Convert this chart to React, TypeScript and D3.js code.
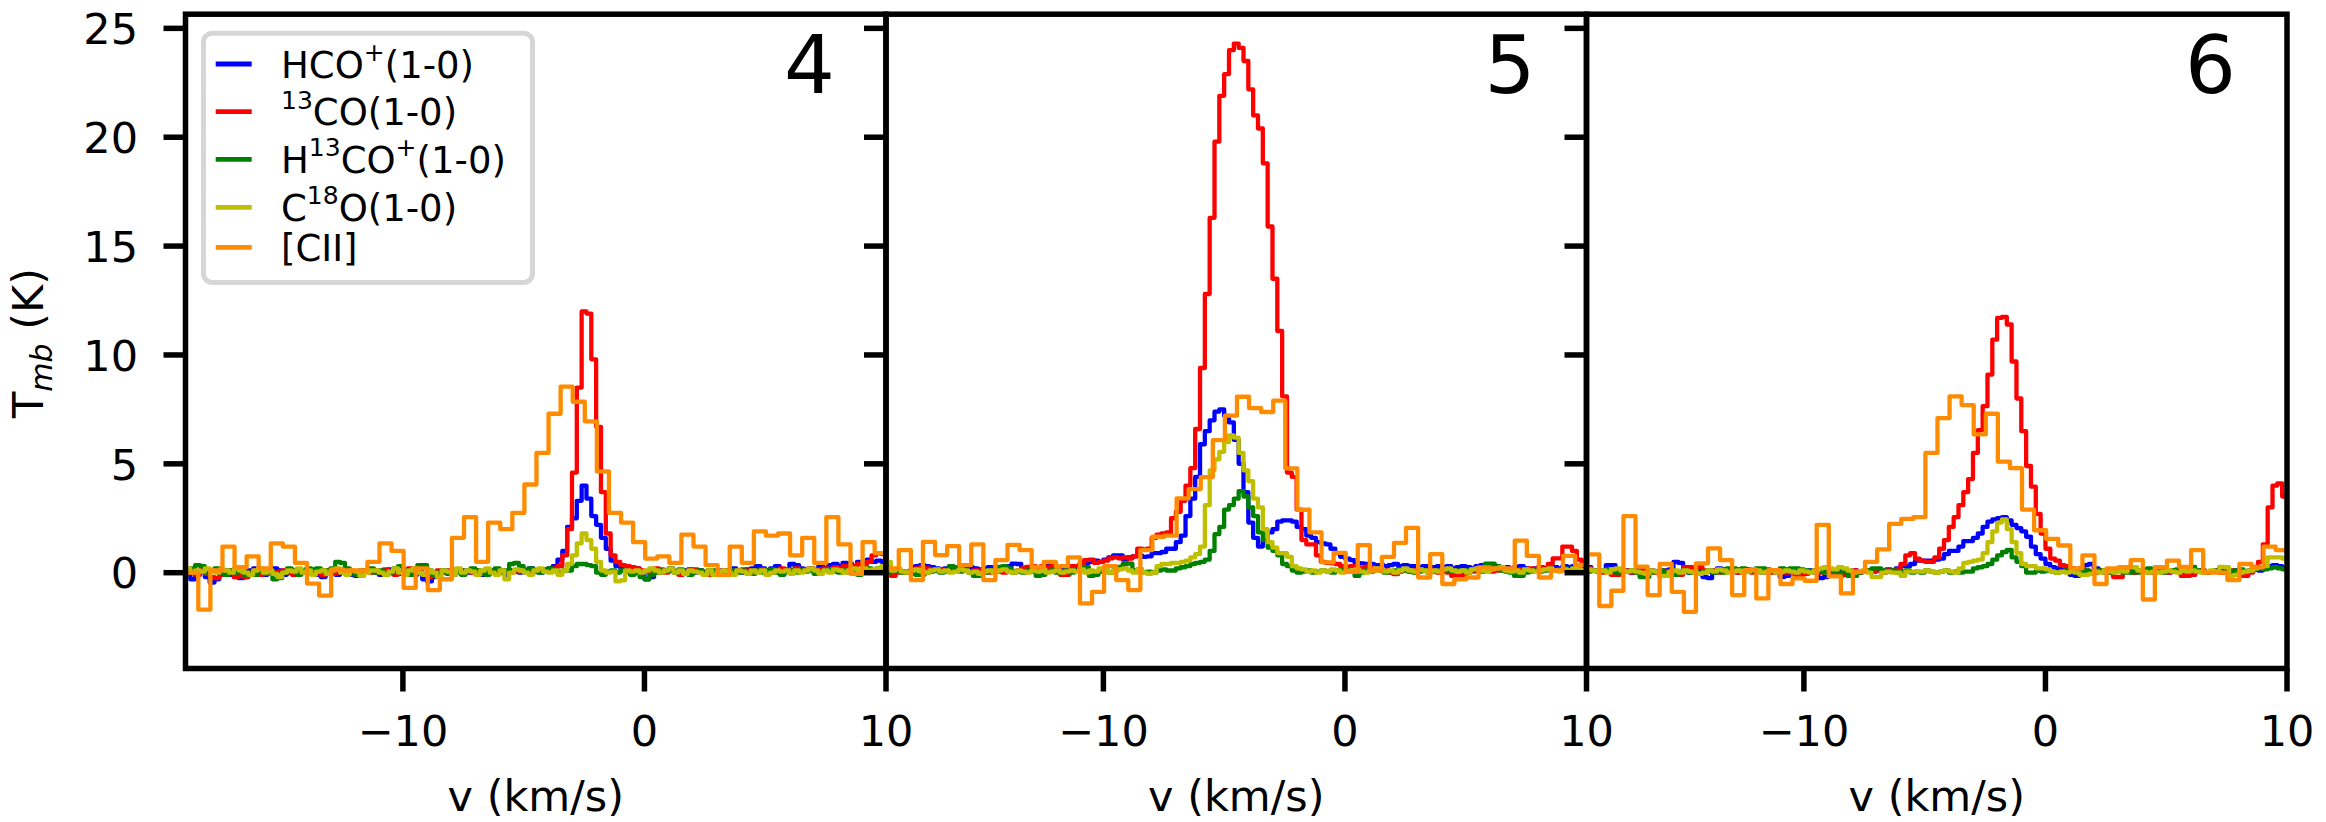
import React from 'react';
import * as d3 from 'd3';

// velocity axis (km/s) and main-beam temperature axis (K), shared by the three regions
const VEL_DOMAIN: [number, number] = [-19, 10];
const TMB_DOMAIN: [number, number] = [-4.4, 25.65];
const X_TICKS = [-10, 0, 10];
const Y_TICKS = [0, 5, 10, 15, 20, 25];
const REGIONS = ['4', '5', '6'];

// molecular lines: channel centres at MOL_V0 + i*MOL_DV ; [CII]: CII_V0 + i*CII_DV
const MOL_V0 = -19.1;
const MOL_DV = 0.2;
const CII_V0 = -19.22;
const CII_DV = 0.5;

const LEGEND = ['HCO+(1-0)', '13CO(1-0)', 'H13CO+(1-0)', 'C18O(1-0)', '[CII]'];
const COLORS = ['#0000ff', '#ff0000', '#008000', '#bfbf00', '#ff8c00'];

// ---------- region 4 ----------
const hco4 = [
  0.1, 0.0, -0.3, -0.1, 0.1, -0.2, -0.45, -0.3, 0.0, 0.1,
  -0.1, -0.2, -0.25, -0.2, 0.1, 0.2, 0.0, -0.1, 0.1, 0.2,
  0.1, -0.1, 0.0, 0.1, -0.05, 0.1, 0.15, 0.0, -0.1, -0.2,
  0.0, 0.1, -0.1, 0.0, 0.1, -0.1, -0.15, 0.0, 0.05, 0.1,
  0.0, -0.1, 0.1, 0.15, 0.0, -0.05, 0.1, 0.0, -0.1, 0.05,
  -0.3, -0.4, -0.2, 0.0, 0.1, 0.0, -0.1, 0.05, 0.1, 0.0,
  0.1, -0.05, -0.1, 0.0, 0.1, 0.05, 0.0, -0.1, 0.1, 0.05,
  0.0, 0.1, 0.2, 0.05, 0.0, 0.15, 0.2, 0.3, 0.6, 1.0,
  2.1, 2.5, 3.3, 4.0, 3.4, 2.6, 2.2, 1.6, 1.1, 0.55,
  0.3, 0.2, 0.25, 0.1, 0.2, 0.0, -0.3, -0.2, 0.1, 0.0,
  0.1, 0.2, 0.05, 0.0, 0.1, 0.15, 0.0, 0.1, 0.05, -0.05,
  0.0, 0.1, 0.05, 0.1, 0.2, 0.1, 0.0, 0.15, 0.2, 0.3,
  0.2, 0.1, 0.2, 0.3, 0.15, 0.1, 0.4, 0.35, 0.2, 0.1,
  0.2, 0.1, 0.3, 0.2, 0.35, 0.4, 0.3, 0.45, 0.4, 0.3,
  0.5, 0.4, 0.6, 0.5, 0.55, 0.5, 0.5,
];
const co13_4 = [
  0.0, 0.1, 0.0, -0.1, 0.1, -0.05, -0.2, -0.25, -0.1, 0.0,
  0.1, -0.2, -0.15, -0.2, 0.0, 0.1, -0.1, -0.05, 0.1, 0.0,
  0.05, 0.1, 0.0, -0.1, 0.1, 0.0, 0.05, 0.15, 0.0, -0.1,
  0.1, -0.05, 0.0, 0.15, 0.1, 0.0, -0.1, 0.05, 0.1, 0.0,
  0.1, 0.0, 0.15, 0.05, -0.1, 0.0, 0.1, 0.2, 0.05, 0.0,
  -0.1, -0.2, 0.0, 0.1, 0.0, 0.1, -0.05, 0.1, 0.0, 0.05,
  0.0, 0.1, -0.05, 0.05, 0.1, 0.0, 0.1, 0.05, 0.0, 0.1,
  0.05, 0.1, 0.0, 0.1, 0.05, 0.1, 0.1, 0.2, 0.3, 0.8,
  2.0, 4.6, 8.5, 12.0, 11.9, 9.8, 6.7, 3.7, 1.8, 0.8,
  0.5, 0.35, 0.3, 0.25, 0.2, 0.1, 0.05, 0.1, 0.2, 0.15,
  0.0, 0.1, 0.05, -0.1, 0.0, 0.1, 0.15, 0.05, 0.0, -0.1,
  -0.1, 0.0, 0.1, 0.05, 0.0, 0.1, 0.15, 0.1, 0.05, 0.1,
  0.15, 0.1, 0.0, 0.1, 0.2, 0.15, 0.1, 0.2, 0.1, 0.15,
  0.2, 0.1, 0.15, 0.2, 0.1, 0.25, 0.2, 0.3, 0.2, 0.3,
  0.4, 0.3, 0.5, 0.8, 0.9, 0.85, 1.2,
];
const h13co4 = [
  0.0, 0.1, 0.2, 0.35, 0.3, 0.0, 0.1, 0.2, 0.0, -0.1,
  0.1, 0.0, 0.15, -0.1, 0.0, -0.1, 0.1, 0.0, 0.1, -0.3,
  -0.25, 0.0, 0.2, 0.1, -0.1, 0.05, 0.2, 0.1, 0.2, 0.1,
  0.1, 0.2, 0.5, 0.45, 0.2, 0.0, -0.1, 0.1, 0.05, 0.2,
  0.0, 0.1, -0.1, 0.0, 0.2, 0.3, 0.1, -0.1, 0.0, 0.35,
  0.35, 0.1, -0.1, 0.0, 0.1, -0.05, 0.1, 0.0, -0.1, 0.1,
  0.2, 0.1, 0.0, -0.1, 0.1, 0.2, 0.0, 0.1, 0.4, 0.45,
  0.3, 0.1, 0.2, 0.1, 0.0, 0.1, 0.2, 0.1, 0.0, 0.1,
  0.1, 0.3, 0.4, 0.4, 0.35, 0.3, 0.0, -0.1, 0.05, 0.1,
  0.0, 0.1, 0.05, -0.1, 0.0, -0.2, -0.3, -0.1, 0.0, 0.1,
  0.05, 0.1, 0.0, 0.15, 0.0, -0.1, 0.05, 0.1, 0.0, 0.1,
  0.1, 0.0, -0.1, 0.05, 0.1, 0.0, 0.1, 0.0, -0.05, 0.1,
  0.0, 0.1, 0.15, 0.0, -0.1, 0.05, 0.1, 0.0, 0.1, 0.05,
  0.1, -0.05, 0.0, 0.1, 0.15, 0.05, 0.0, 0.1, 0.0, 0.1,
  -0.1, 0.0, 0.2, 0.1, 0.2, 0.15, 0.2,
];
const c18o4 = [
  0.1, 0.2, 0.0, 0.1, 0.05, 0.2, 0.1, 0.0, 0.15, 0.1,
  0.0, 0.2, 0.1, 0.0, -0.1, 0.1, 0.2, 0.0, 0.1, -0.05,
  -0.2, 0.0, 0.1, 0.05, 0.2, 0.0, 0.1, -0.1, 0.05, 0.1,
  -0.05, 0.1, 0.2, 0.0, -0.1, 0.1, 0.05, -0.15, 0.0, 0.1,
  0.1, 0.0, -0.1, 0.05, 0.2, 0.0, -0.1, 0.1, 0.2, 0.0,
  -0.1, 0.1, 0.0, -0.2, 0.1, 0.05, -0.1, 0.2, 0.0, 0.1,
  0.05, -0.1, 0.1, 0.2, 0.0, -0.1, 0.1, -0.3, 0.0, 0.15,
  0.1, 0.0, -0.1, 0.1, 0.2, 0.05, 0.0, 0.1, -0.1, 0.1,
  0.4, 0.8, 1.35, 1.8, 1.5, 1.1, 0.5, 0.1, 0.0, 0.05,
  -0.4, -0.35, 0.1, 0.05, 0.1, 0.0, 0.1, 0.2, 0.1, 0.0,
  0.1, 0.2, 0.0, 0.1, -0.05, 0.1, 0.05, 0.0, -0.1, 0.1,
  -0.1, 0.05, 0.1, 0.0, -0.1, 0.1, 0.05, -0.05, 0.1, 0.0,
  0.1, -0.1, 0.0, 0.1, 0.05, 0.1, -0.05, 0.1, 0.0, 0.1,
  0.2, 0.1, -0.05, 0.1, 0.0, 0.15, 0.1, 0.0, 0.1, 0.2,
  0.1, 0.2, 0.1, 0.15, 0.2, 0.3, 0.2,
];
const cii4 = [
  0.0,
  0.0, -1.7, 0.1, 1.2, 0.25, 0.75, 0.2, 1.35, 1.2, 0.45,
  -0.5, -1.05, 0.15, 0.1, 0.1, 0.5, 1.35, 1.0, -0.7, 0.2,
  -0.8, -0.3, 1.6, 2.55, 0.5, 2.3, 2.0, 2.75, 4.05,
  5.5, 7.3, 8.55, 7.85, 6.95, 4.65, 2.75, 2.3, 1.4, 0.65,
  0.75, 0.45, 1.75, 1.2, 0.35, -0.1, 1.2, 0.45, 1.9, 1.7,
  1.8, 0.8, 1.6, 0.45, 2.55, 1.3, -0.05, 1.4, 0.9,
  0.8,
];

// ---------- region 5 ----------
const hco5 = [
  0.0, 0.05, 0.0, 0.1, 0.05, 0.0, 0.1, 0.3, 0.35, 0.3,
  0.25, 0.2, 0.15, 0.2, 0.25, 0.2, 0.15, 0.2, 0.25, 0.2,
  0.15, 0.2, 0.25, 0.2, 0.15, 0.2, 0.3, 0.42, 0.4, 0.2,
  0.25, 0.2, 0.15, 0.2, 0.3, 0.3, 0.3, 0.25, 0.2, 0.15,
  0.2, 0.3, 0.45, 0.5, 0.55, 0.5, 0.6, 0.7, 0.8, 0.8,
  0.6, 0.7, 0.75, 0.8, 0.73, 0.75, 0.9, 0.9, 0.95, 1.1,
  1.1, 1.4, 1.7, 2.6, 3.4, 4.4, 5.9, 6.5, 7.0, 7.4,
  7.5, 7.2, 6.9, 6.1, 5.0, 3.7, 2.3, 1.6, 1.2, 1.5,
  1.85, 2.0, 2.35, 2.4, 2.4, 2.35, 2.1, 2.0, 1.7, 1.6,
  1.4, 1.35, 1.3, 1.1, 0.9, 0.73, 0.65, 0.58, 0.45, 0.43,
  0.4, 0.4, 0.35, 0.35, 0.3, 0.35, 0.4, 0.3, 0.35, 0.3,
  0.3, 0.25, 0.3, 0.2, 0.25, 0.3, 0.25, 0.3, 0.2, 0.25,
  0.3, 0.25, 0.2, 0.3, 0.35, 0.3, 0.25, 0.3, 0.2, 0.25,
  0.2, 0.25, 0.3, 0.2, 0.15, 0.2, 0.25, 0.2, 0.3, 0.25,
  0.2, 0.3, 0.25, 0.3, 0.35, 0.3, 0.3,
];
const co13_5 = [
  -0.15, -0.1, -0.15, 0.0, 0.05, 0.0, 0.1, 0.2, 0.25, 0.2,
  0.15, 0.1, 0.15, 0.1, 0.05, 0.1, 0.15, 0.1, 0.05, 0.1,
  0.1, 0.05, 0.0, 0.1, 0.05, 0.0, 0.1, 0.05, 0.1, 0.2,
  0.27, 0.3, 0.25, 0.3, 0.25, 0.3, 0.2, -0.1, -0.1, 0.3,
  0.3, 0.4, 0.58, 0.6, 0.45, 0.5, 0.55, 0.66, 0.7, 0.66,
  0.7, 0.65, 0.75, 1.1, 1.07, 1.1, 1.6, 1.75, 1.8, 1.85,
  2.5, 2.8, 3.3, 4.0, 4.8, 6.6, 9.4, 12.8, 16.3, 19.8,
  21.9, 22.9, 24.0, 24.3, 24.1, 23.5, 22.2, 21.0, 20.4, 18.8,
  15.9, 13.5, 11.1, 8.1, 4.6, 4.4, 2.9, 1.5, 1.3, 1.3,
  0.8, 0.5, 0.45, 0.43, 0.4, 0.3, 0.28, 0.3, 0.25, 0.2,
  0.28, 0.25, 0.2, 0.15, 0.1, 0.0, -0.07, 0.05, 0.1, 0.05,
  0.1, 0.15, 0.1, 0.05, 0.1, 0.0, 0.05, 0.0, -0.15, -0.15,
  -0.1, 0.0, 0.05, 0.1, 0.15, 0.1, 0.05, 0.1, 0.15, 0.1,
  0.1, 0.05, 0.15, 0.1, 0.2, 0.15, 0.25, 0.2, 0.4, 0.66,
  0.66, 1.2, 1.2, 1.0, 0.6, 0.36, 0.4,
];
const h13co5 = [
  0.0, 0.0, 0.05, 0.1, 0.0, 0.05, 0.1, -0.1, -0.1, 0.0,
  0.05, 0.1, 0.0, 0.05, 0.3, 0.25, 0.05, 0.1, 0.0, -0.15,
  -0.15, 0.0, 0.1, 0.05, 0.27, 0.3, 0.2, 0.0, 0.05, 0.0,
  0.1, 0.05, -0.15, -0.1, 0.05, 0.1, 0.0, 0.05, 0.1, 0.0,
  0.1, 0.27, 0.25, -0.15, -0.1, 0.05, 0.1, 0.0, 0.1, 0.27,
  0.4, 0.42, 0.1, 0.15, 0.0, 0.05, 0.0, 0.1, 0.15, 0.1,
  0.1, 0.2, 0.25, 0.3, 0.4, 0.45, 0.5, 0.6, 1.0, 1.77,
  2.1, 2.9, 3.1, 3.4, 3.75, 3.5, 3.0, 2.6, 1.85, 1.5,
  1.15, 1.0, 0.8, 0.4, 0.3, 0.1, 0.0, 0.05, 0.1, 0.0,
  0.05, 0.1, 0.05, 0.0, 0.1, 0.15, 0.1, 0.05, -0.15, 0.0,
  0.1, 0.05, 0.15, 0.1, 0.0, 0.05, 0.1, 0.15, 0.1, 0.05,
  0.0, 0.05, 0.1, 0.0, 0.05, 0.1, 0.15, 0.1, 0.05, 0.1,
  0.05, 0.1, 0.15, 0.1, 0.05, 0.42, 0.42, 0.3, 0.1, 0.05,
  0.0, -0.15, -0.15, 0.0, 0.05, 0.1, 0.05, 0.1, 0.15, 0.1,
  0.15, 0.2, 0.1, 0.2, 0.15, 0.1, 0.15,
];
const c18o5 = [
  0.55, 0.5, 0.1, 0.2, 0.05, 0.0, 0.1, 0.15, 0.05, 0.0,
  0.1, 0.15, 0.05, 0.1, 0.0, 0.05, 0.15, 0.1, 0.0, 0.05,
  -0.05, 0.05, 0.1, 0.0, 0.1, 0.15, 0.05, 0.0, 0.1, 0.05,
  0.0, 0.1, 0.05, 0.15, 0.0, 0.05, 0.1, 0.0, 0.05, 0.1,
  0.05, 0.15, 0.0, 0.1, 0.05, 0.2, 0.1, 0.0, 0.1, 0.15,
  0.2, 0.1, 0.0, 0.15, 0.0, -0.05, 0.0, 0.3, 0.4, 0.4,
  0.45, 0.45, 0.5, 0.55, 0.7, 0.85, 1.2, 3.1, 4.7, 5.2,
  5.55, 6.0, 6.3, 6.2, 5.5, 4.7, 4.2, 3.4, 3.0, 2.0,
  1.4, 1.15, 0.9, 0.9, 0.73, 0.3, 0.2, 0.15, 0.05, 0.1,
  0.0, 0.1, 0.05, 0.15, 0.1, 0.0, 0.05, 0.1, 0.15, 0.05,
  0.0, 0.1, 0.2, 0.15, 0.05, 0.1, 0.0, 0.1, 0.2, 0.1,
  0.05, 0.15, 0.1, 0.0, 0.1, 0.05, 0.15, 0.2, 0.1, 0.05,
  0.1, 0.0, 0.15, 0.2, 0.1, 0.05, 0.15, 0.2, 0.25, 0.1,
  0.05, 0.1, 0.0, 0.15, 0.1, 0.05, 0.1, 0.15, 0.2, 0.1,
  0.05, 0.15, 0.1, 0.2, 0.15, 0.1, 0.1,
];
const cii5 = [
  0.2,
  0.2, 1.04, -0.34, 1.42, 0.81, 1.22, 0.35, 1.3, -0.34, 0.58,
  1.28, 1.04, 0.27, 0.5, 0.3, 0.7, -1.41, -0.88, 0.3, -0.34,
  -0.8, 1.04, 1.65, 1.7, 3.41, 3.84, 4.39, 6.09, 7.21, 8.08,
  7.56, 7.38, 7.9, 4.79, 2.89, 1.85, 0.47, 0.91, 0.04, 1.27,
  0.1, 0.73, 1.37, 2.06, -0.22, 0.85, -0.52, -0.3, -0.22, 0.24,
  0.2, 0.2, 1.47, 0.77, -0.22, 0.1, 0.77, 0.36,
  0.3,
];

// ---------- region 6 ----------
const hco6 = [
  0.2, 0.25, 0.1, 0.05, 0.1, 0.35, 0.35, 0.0, 0.05, 0.1,
  0.0, 0.1, 0.05, 0.0, 0.1, 0.05, 0.0, 0.1, 0.15, 0.5,
  0.45, 0.1, 0.0, 0.05, 0.1, -0.2, -0.25, 0.0, 0.2, 0.15,
  0.1, 0.05, 0.0, 0.1, 0.15, 0.05, 0.1, 0.0, 0.05, 0.1,
  0.0, -0.2, -0.15, 0.05, 0.1, 0.0, 0.05, 0.1, 0.0, -0.25,
  -0.2, 0.0, 0.05, 0.1, 0.0, 0.05, 0.1, 0.0, 0.05, 0.1,
  0.05, 0.1, 0.0, 0.15, 0.1, 0.2, 0.3, 0.3, 0.4, 0.55,
  0.55, 0.55, 0.55, 0.6, 0.65, 0.85, 1.0, 1.0, 1.2, 1.45,
  1.45, 1.6, 1.8, 2.1, 2.35, 2.45, 2.5, 2.55, 2.4, 2.2,
  2.05, 1.9, 1.65, 1.2, 0.85, 0.65, 0.4, 0.25, 0.2, 0.15,
  0.1, -0.1, -0.15, 0.2, 0.35, 0.4, 0.2, 0.05, 0.0, 0.05,
  0.1, 0.2, 0.15, 0.05, 0.0, 0.1, 0.05, 0.1, 0.0, 0.05,
  0.1, 0.0, 0.05, 0.1, 0.0, -0.1, -0.1, 0.05, 0.1, 0.0,
  0.05, 0.1, 0.2, 0.15, 0.05, 0.1, 0.0, 0.05, 0.1, 0.15,
  0.1, 0.2, 0.3, 0.35, 0.3, 0.2, 0.2,
];
const co13_6 = [
  0.25, 0.2, 0.1, 0.05, 0.0, 0.1, -0.1, -0.1, 0.05, 0.1,
  0.0, 0.05, 0.1, 0.0, 0.05, 0.0, 0.1, 0.05, 0.0, -0.1,
  -0.1, 0.25, 0.25, 0.2, 0.25, 0.1, 0.05, 0.1, 0.0, 0.05,
  0.1, 0.05, 0.0, 0.1, 0.05, 0.0, 0.1, 0.05, 0.1, 0.0,
  0.05, 0.1, 0.0, 0.05, -0.1, -0.1, -0.05, 0.05, 0.1, 0.0,
  0.05, 0.1, 0.0, -0.15, -0.1, 0.05, 0.1, 0.0, 0.05, 0.1,
  0.05, 0.1, 0.0, 0.1, 0.1, 0.15, 0.4, 0.8, 0.9, 0.65,
  0.55, 0.5, 0.5, 0.7, 1.1, 1.5, 2.1, 2.55, 3.1, 3.7,
  4.3, 5.5, 6.55, 7.65, 9.1, 10.7, 11.7, 11.75, 11.4, 9.7,
  8.0, 6.5, 4.9, 3.95, 2.7, 1.8, 1.1, 0.65, 0.55, 0.35,
  0.3, 0.2, 0.15, 0.2, 0.1, 0.05, 0.0, 0.1, 0.05, 0.0,
  -0.2, -0.2, 0.05, 0.1, 0.0, 0.05, 0.1, 0.0, 0.05, 0.1,
  0.05, 0.0, 0.1, 0.05, -0.15, -0.15, -0.1, 0.05, 0.1, 0.0,
  0.05, 0.1, 0.0, 0.05, 0.1, 0.0, -0.15, -0.15, 0.0, 0.27,
  0.5, 1.3, 3.0, 4.0, 4.1, 3.5, 3.4,
];
const h13co6 = [
  0.0, 0.05, 0.1, 0.05, 0.1, 0.15, 0.05, 0.0, 0.1, 0.05,
  0.1, 0.0, -0.2, -0.2, 0.0, 0.05, 0.1, 0.0, -0.05, -0.1,
  0.05, 0.1, 0.0, 0.05, 0.0, 0.05, 0.1, 0.0, 0.05, 0.0,
  0.2, 0.2, 0.15, 0.2, 0.1, 0.05, 0.2, 0.2, 0.15, 0.05,
  0.1, 0.2, 0.15, 0.2, 0.2, 0.15, 0.1, 0.05, 0.1, 0.05,
  0.0, 0.05, 0.1, 0.0, 0.05, -0.15, -0.15, 0.0, 0.05, 0.1,
  0.2, 0.2, 0.1, 0.05, 0.1, 0.0, 0.05, 0.1, 0.0, 0.05,
  0.0, 0.1, 0.05, 0.0, 0.05, 0.1, 0.0, 0.05, 0.0, 0.05,
  0.05, 0.2, 0.25, 0.3, 0.4, 0.6, 0.8, 0.95, 1.05, 0.7,
  0.5, 0.3, 0.0, 0.0, 0.1, 0.05, 0.1, 0.05, 0.0, 0.05,
  0.1, 0.05, 0.0, 0.05, 0.1, 0.0, 0.05, 0.1, 0.05, 0.0,
  0.05, 0.1, 0.0, 0.0, 0.05, 0.0, 0.1, 0.2, 0.15, 0.05,
  0.0, 0.05, 0.1, 0.15, 0.05, 0.25, 0.27, 0.1, 0.05, 0.0,
  0.05, 0.1, 0.05, 0.0, 0.05, 0.1, 0.15, 0.05, 0.1, 0.15,
  0.2, 0.15, 0.2, 0.25, 0.2, 0.15, 0.2,
];
const c18o6 = [
  0.1, 0.15, 0.1, 0.05, 0.1, 0.0, 0.15, 0.2, 0.1, 0.05,
  0.1, 0.05, 0.0, -0.05, 0.1, 0.05, -0.15, -0.15, 0.05, 0.1,
  0.0, 0.1, 0.05, 0.0, -0.05, 0.0, 0.1, 0.05, 0.15, 0.1,
  0.0, 0.05, 0.1, 0.0, 0.05, 0.15, 0.1, 0.0, 0.05, 0.1,
  0.0, 0.05, 0.1, 0.05, 0.0, 0.1, 0.05, 0.0, 0.1, 0.2,
  0.25, 0.2, 0.15, 0.25, 0.2, 0.1, 0.0, 0.05, 0.1, 0.0,
  -0.2, -0.2, 0.0, 0.05, 0.0, 0.0, -0.15, 0.05, 0.05, 0.05,
  0.05, 0.1, 0.05, 0.0, 0.05, 0.1, 0.05, 0.0, 0.2, 0.45,
  0.5, 0.55, 0.6, 0.9, 1.4, 1.9, 2.3, 2.45, 2.0, 1.4,
  0.9, 0.4, 0.3, 0.3, 0.2, 0.2, 0.15, 0.05, 0.0, 0.05,
  0.0, 0.05, 0.0, -0.1, -0.1, -0.05, 0.05, 0.0, 0.1, 0.05,
  0.0, 0.1, 0.05, 0.27, 0.25, 0.1, 0.05, 0.0, 0.05, 0.0,
  0.05, 0.1, 0.05, 0.0, 0.1, 0.05, 0.1, 0.05, 0.0, 0.05,
  0.1, 0.05, 0.27, 0.25, -0.15, -0.1, 0.0, 0.05, 0.1, 0.2,
  0.25, 0.3, 0.7, 0.7, 0.7, 0.65, 0.6,
];
const cii6 = [
  0.5,
  0.84, -1.53, -0.83, 2.6, 0.28, -1.03, 0.4, -0.88, -1.8, 0.43,
  1.12, 0.58, -1.03, 0.12, -1.18, 0.12, -0.52, -0.26, -0.37, 2.2,
  -0.17, -0.95, 0.04, 0.5, 1.07, 2.24, 2.47, 2.55, 5.5, 7.1,
  8.1, 7.7, 6.35, 7.3, 5.1, 4.8, 2.9, 1.95, 1.55, 1.25,
  0.2, 0.8, -0.52, 0.2, 0.25, 0.58, -1.23, 0.25, 0.55, 0.27,
  1.04, 0.0, 0.0, -0.34, 0.4, 0.27, 1.2, 1.04,
  1.0,
];

const molecular = [
  [hco4, co13_4, h13co4, c18o4],
  [hco5, co13_5, h13co5, c18o5],
  [hco6, co13_6, h13co6, c18o6],
];
const cii = [cii4, cii5, cii6];

// layout (px)
const WIDTH = 2326;
const HEIGHT = 822;
const PANEL_LEFT = [185.5, 886, 1586.5];
const PANEL_W = 700.5;
const TOP = 14.2;
const BOTTOM = 668.5;
const FONT = 'DejaVu Sans, Liberation Sans, sans-serif';
const LW = 4.3;

const yScale = d3.scaleLinear().domain(TMB_DOMAIN).range([BOTTOM, TOP]);

function stepPath(values: number[], v0: number, dv: number, x: d3.ScaleLinear<number, number>) {
  const line = d3
    .line<number>()
    .x((_, i) => x(v0 + i * dv))
    .y(d => yScale(d))
    .curve(d3.curveStep);
  return line(values) || '';
}

const Legend = () => {
  const rows = [64, 111.7, 159.3, 207.3, 247.3];
  const fs = 37;
  const sup = 25;
  const up = 16.5;
  const tx = 281;
  return (
    <g>
      <rect x={203.5} y={33.2} width={329} height={249.3} rx={9} fill="#ffffff" stroke="#d6d6d6" strokeWidth={5} />
      {rows.map((ry, i) => (
        <line key={i} x1={215.7} x2={251.7} y1={ry} y2={ry} stroke={COLORS[i]} strokeWidth={LW + 0.5} />
      ))}
      <g fontFamily={FONT} fontSize={fs} fill="#000">
        <text x={tx} y={rows[0] + 13.5}>
          HCO<tspan dy={-up} fontSize={sup}>+</tspan>
          <tspan dy={up}>(1-0)</tspan>
        </text>
        <text x={tx} y={rows[1] + 13.5}>
          <tspan dy={-up} fontSize={sup}>13</tspan>
          <tspan dy={up}>CO(1-0)</tspan>
        </text>
        <text x={tx} y={rows[2] + 13.5}>
          H<tspan dy={-up} fontSize={sup}>13</tspan>
          <tspan dy={up}>CO</tspan>
          <tspan dy={-up} fontSize={sup}>+</tspan>
          <tspan dy={up}>(1-0)</tspan>
        </text>
        <text x={tx} y={rows[3] + 13.5}>
          C<tspan dy={-up} fontSize={sup}>18</tspan>
          <tspan dy={up}>O(1-0)</tspan>
        </text>
        <text x={tx} y={rows[4] + 13.5}>{LEGEND[4]}</text>
      </g>
    </g>
  );
};

const Panel = ({ index }: { index: number }) => {
  const left = PANEL_LEFT[index];
  const x = d3.scaleLinear().domain(VEL_DOMAIN).range([left, left + PANEL_W]);
  const clipId = `clip-${index}`;
  return (
    <g>
      <defs>
        <clipPath id={clipId}>
          <rect x={left} y={TOP} width={PANEL_W} height={BOTTOM - TOP} />
        </clipPath>
      </defs>
      <g clipPath={`url(#${clipId})`} fill="none" strokeWidth={LW} strokeLinejoin="round">
        {molecular[index].map((vals, k) => (
          <path key={k} d={stepPath(vals, MOL_V0, MOL_DV, x)} stroke={COLORS[k]} />
        ))}
        <path d={stepPath(cii[index], CII_V0, CII_DV, x)} stroke={COLORS[4]} />
      </g>

      {/* y ticks (outward, left) */}
      {Y_TICKS.map(t => (
        <line key={t} x1={left - 22} x2={left} y1={yScale(t)} y2={yScale(t)} stroke="#000" strokeWidth={5.5} />
      ))}
      {/* x ticks (outward, down) */}
      {X_TICKS.map(t => (
        <line key={t} x1={x(t)} x2={x(t)} y1={BOTTOM} y2={BOTTOM + 23} stroke="#000" strokeWidth={5.5} />
      ))}
      <rect x={left} y={TOP} width={PANEL_W} height={BOTTOM - TOP} fill="none" stroke="#000" strokeWidth={5.5} />

      <g fontFamily={FONT} fill="#000">
        {X_TICKS.map(t => (
          <text key={t} x={x(t)} y={746} fontSize={43} textAnchor="middle">
            {t < 0 ? `\u2212${Math.abs(t)}` : `${t}`}
          </text>
        ))}
        {index === 0 &&
          Y_TICKS.map(t => (
            <text key={t} x={138} y={yScale(t) + 15.7} fontSize={43} textAnchor="end">
              {t}
            </text>
          ))}
        <text x={left + PANEL_W / 2} y={811} fontSize={43} textAnchor="middle">
          v (km/s)
        </text>
        <text x={left + PANEL_W - 51} y={93} fontSize={80} textAnchor="end">
          {REGIONS[index]}
        </text>
      </g>
    </g>
  );
};

export default function App() {
  return (
    <div>
      <style>{'body{margin:0;background:#fff}'}</style>
      <svg width={WIDTH} height={HEIGHT} viewBox={`0 0 ${WIDTH} ${HEIGHT}`} style={{ display: 'block', background: '#fff' }}>
        {REGIONS.map((_, i) => (
          <Panel key={i} index={i} />
        ))}
        <Legend />
        <text
          transform="translate(43,343) rotate(-90)"
          textAnchor="middle"
          fontFamily={FONT}
          fontSize={43}
          fill="#000"
        >
          T<tspan fontStyle="italic" fontSize={30} dy={9}>mb</tspan>
          <tspan dy={-9}> (K)</tspan>
        </text>
      </svg>
    </div>
  );
}
